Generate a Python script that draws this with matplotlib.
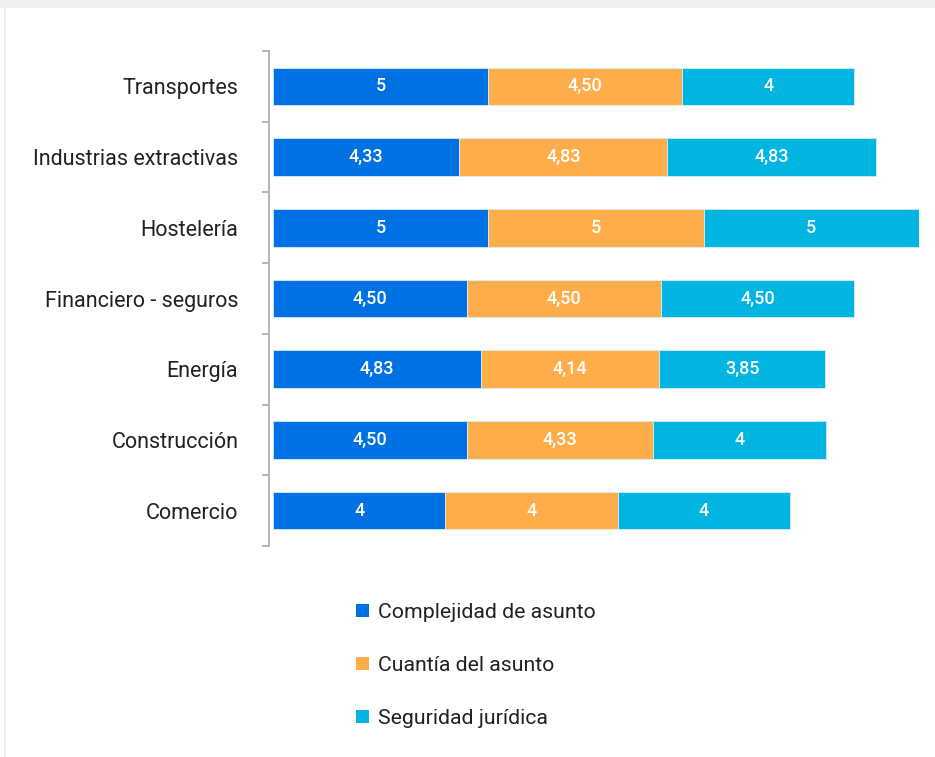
import matplotlib
matplotlib.use("Agg")
import matplotlib.pyplot as plt
from matplotlib.patches import Rectangle
from matplotlib.ticker import FixedLocator

plt.rcParams['font.family'] = ['Roboto', 'DejaVu Sans']

categories = ["Transportes", "Industrias extractivas", "Hostelería",
              "Financiero - seguros", "Energía", "Construcción", "Comercio"]
series_names = ["Complejidad de asunto", "Cuantía del asunto", "Seguridad jurídica"]
complejidad = [5, 4.33, 5, 4.50, 4.83, 4.50, 4]
cuantia = [4.50, 4.83, 5, 4.50, 4.14, 4.33, 4]
seguridad = [4, 4.83, 5, 4.50, 3.85, 4, 4]
colors = ["#0071e3", "#ffad4b", "#00b5e2"]

W, H = 935, 757
fig = plt.figure(figsize=(W / 100, H / 100), dpi=100)
fig.patch.set_facecolor("white")

# top light band and left thin strip
fig.patches.append(Rectangle((0, 1 - 8 / H), 1, 8 / H, transform=fig.transFigure,
                             facecolor="#f1eeee", edgecolor="none", zorder=0))
fig.patches.append(Rectangle((4 / W, 0), 2 / W, 1, transform=fig.transFigure,
                             facecolor="#f3f0f0", edgecolor="none", zorder=0))

left, right = 273 / W, 919 / W
top, bottom = 1 - 51 / H, 1 - 546 / H
ax = fig.add_axes([left, bottom, right - left, top - bottom])

y = list(range(len(categories)))
lefts = [0] * len(categories)

def fmt(v):
    if abs(v - round(v)) < 1e-9:
        return str(int(round(v)))
    return f"{v:.2f}".replace(".", ",")

for vals, col, name in zip([complejidad, cuantia, seguridad], colors, series_names):
    ax.barh(y, vals, left=lefts, height=0.53, color=col, label=name,
            edgecolor="#d8ecf8", linewidth=0.6)
    for yi, v, l in zip(y, vals, lefts):
        ax.text(l + v / 2, yi, fmt(v), ha="center", va="center", color="white",
                fontsize=13, fontweight="medium")
    lefts = [a + b for a, b in zip(lefts, vals)]

ax.set_xlim(0, 15)
ax.set_ylim(len(categories) - 0.5, -0.5)
ax.set_yticks(y)
ax.set_yticklabels(categories)
ax.yaxis.set_minor_locator(FixedLocator([i - 0.5 for i in range(len(categories) + 1)]))
ax.tick_params(axis="y", which="major", length=0, pad=22, labelsize=15.5,
               labelcolor="#222222")
ax.tick_params(axis="y", which="minor", length=5, color="#aaaaaa", width=1.2)
ax.set_xticks([])
for s in ["top", "right", "bottom"]:
    ax.spines[s].set_visible(False)
ax.spines["left"].set_color("#aaaaaa")
ax.spines["left"].set_linewidth(1.2)
ax.spines["left"].set_position(("outward", 3))

handles, labels = ax.get_legend_handles_labels()
leg = fig.legend(handles, labels, loc="upper left",
                 bbox_to_anchor=(337 / W, 1 - 584 / H), frameon=False,
                 fontsize=15.3, labelspacing=1.6, handlelength=0.6,
                 handleheight=0.6, handletextpad=0.45)
for t in leg.get_texts():
    t.set_color("#222222")
for h in leg.legend_handles:
    h.set_edgecolor("none")

fig.savefig("out.png", dpi=100)
